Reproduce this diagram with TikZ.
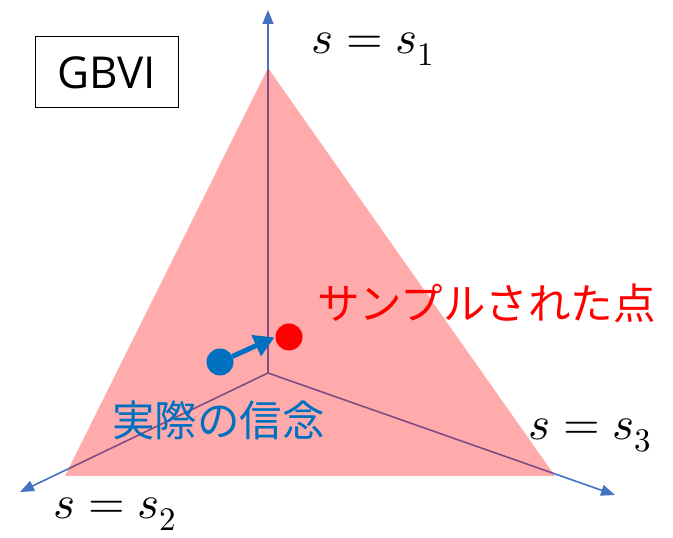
\documentclass[tikz,border=0pt]{standalone}
\usepackage{fontspec}
\usepackage{unicode-math}
\setmainfont{Open Sans}
\setmathfont{Latin Modern Math}
\newfontfamily\cjk{Noto Sans CJK JP}
\usetikzlibrary{arrows.meta}
\definecolor{axisblue}{RGB}{68,114,196}
\definecolor{dotblue}{RGB}{0,112,192}
\tikzset{
  axis/.style={axisblue, line width=1.6pt, -{Triangle[length=14pt,width=11pt]}},
  lab/.style={font=\fontsize{47}{52}\selectfont},
  dot/.style={circle, minimum size=27pt, inner sep=0pt},
  jp/.style={font=\cjk\fontsize{42.5}{48}\selectfont, anchor=west, inner sep=0pt},
}
\begin{document}
\begin{tikzpicture}[x=1pt,y=1pt]
\useasboundingbox (0,0) rectangle (673,538);
\coordinate (O) at (268,165);
\coordinate (A1) at (268,528);
\coordinate (A2) at (20,46);
\coordinate (A3) at (615,43);
\draw[axis] (O) -- (A1);
\draw[axis] (O) -- (A2);
\draw[axis] (O) -- (A3);
\coordinate (T1) at (268,470);
\coordinate (T2) at (65,62);
\coordinate (T3) at (555,62);
\fill[red, opacity=0.33] (T1) -- (T2) -- (T3) -- cycle;
\node[lab, anchor=base west, inner sep=0pt] (l1) at (311,484) {$s = s_1$};
\node[lab, anchor=base west, inner sep=0pt] (l2) at (53,19) {$s = s_2$};
\node[lab, anchor=base west, inner sep=0pt] (l3) at (528,98) {$s = s_3$};
\node[draw, line width=1pt, minimum width=143pt, minimum height=71pt, font=\fontsize{44}{50}\selectfont] (g) at (106.5,465.5) {GBVI};
\node[dot, fill=red] (r) at (289,201) {};
\node[dot, fill=dotblue] (b) at (220,176) {};
\draw[dotblue, line width=5pt, -{Triangle[length=20pt,width=22pt]}, shorten >=1pt] (b) -- (r.west);
\node[jp, red] (t1) at (317,235) {サンプルされた点};
\node[jp, dotblue] (t2) at (112,118) {実際の信念};
\end{tikzpicture}
\end{document}
